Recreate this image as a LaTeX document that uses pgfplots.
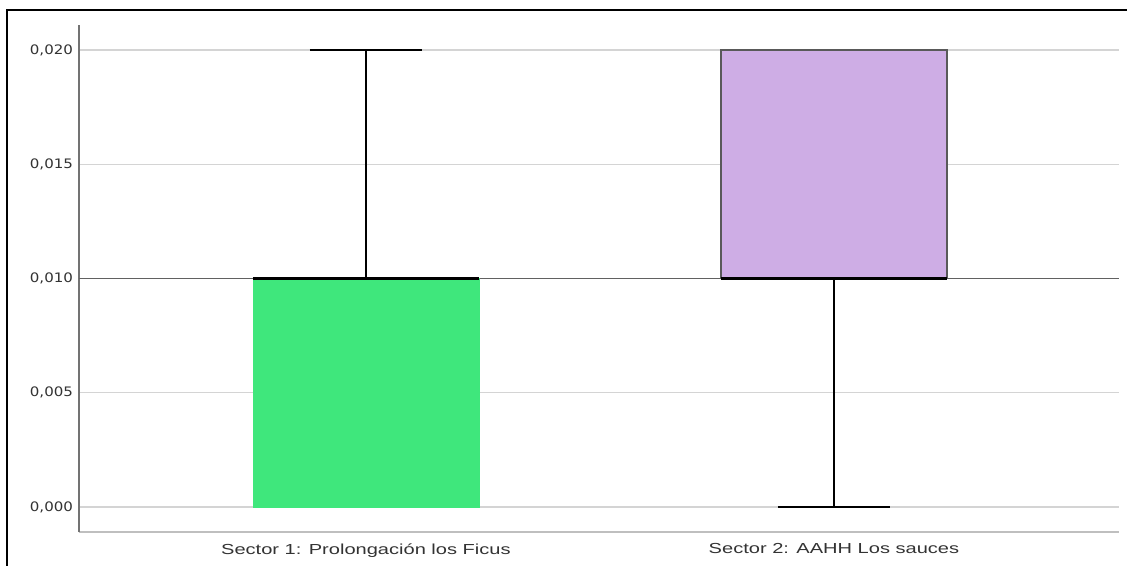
\documentclass[border=0pt]{standalone}
\usepackage{fontspec}
\setmainfont{Liberation Sans}
\newfontfamily\xfont[FakeStretch=1.38]{Liberation Sans}
\newfontfamily\dejavu[FakeStretch=1.15]{DejaVu Sans}
\usepackage{pgfplots}
\pgfplotsset{compat=1.18}
\usepgfplotslibrary{statistics}
\definecolor{boxgreen}{RGB}{63,231,124}
\definecolor{boxpurple}{RGB}{206,173,229}
\begin{document}
\begin{tikzpicture}
\useasboundingbox (0,0) rectangle (845.25pt,423.75pt);
\fill[white] (0,0) rectangle (845.25pt,423.75pt);
\draw[black, line width=1.6pt] (5.25pt,-10pt) -- (5.25pt,416.25pt) -- (860pt,416.25pt);
\begin{axis}[
  scale only axis, width=780pt, height=380.25pt,
  at={(59.25pt,24.75pt)}, anchor=south west,
  xmin=-0.613, xmax=1.609, ymin=-0.001094, ymax=0.021094,
  axis lines*=left,
  x axis line style={color=black!25, line width=0.9pt},
  y axis line style={color=black!55, line width=0.9pt},
  xtick={0,1},
  xticklabels={Sector 1: Prolongación los Ficus, Sector 2: AAHH Los sauces},
  ytick={0,0.005,0.01,0.015,0.02},
  scaled y ticks=false,
  ymajorgrids,
  grid style={color=black!17, line width=0.9pt},
  major tick length=0pt,
  extra y ticks={0.01}, extra y tick labels={},
  extra y tick style={grid style={color=black!62, line width=0.9pt}},
  yticklabel style={font=\dejavu\fontsize{9.8}{11}\selectfont, color=black!80, xshift=-1pt},
  xticklabel style={font=\xfont\fontsize{10.9}{12}\selectfont, color=black!80, yshift=-5pt},
  /pgf/number format/.cd, fixed, fixed zerofill, precision=3, use comma, assume math mode=true,
  /pgfplots/.cd,
  boxplot/draw direction=y,
]
\addplot[fill=boxgreen, draw=none,
  boxplot prepared={draw position=0,
    lower whisker=0, lower quartile=0, median=0.01,
    upper quartile=0.01, upper whisker=0.02,
    box extend=0.483, whisker extend=0.24,
    every box/.style={draw=boxgreen, fill=boxgreen},
    every median/.style={draw=black, line width=1.8pt},
    every whisker/.style={draw=black, line width=1.4pt}}]
  coordinates {};
\addplot[fill=boxpurple, draw=black!65, line width=0.9pt,
  boxplot prepared={draw position=1,
    lower whisker=0, lower quartile=0.01, median=0.01,
    upper quartile=0.02, upper whisker=0.02,
    box extend=0.483, whisker extend=0.24,
    every median/.style={draw=black, line width=1.8pt},
    every whisker/.style={draw=black, line width=1.4pt}}]
  coordinates {};
\end{axis}
\end{tikzpicture}
\end{document}
